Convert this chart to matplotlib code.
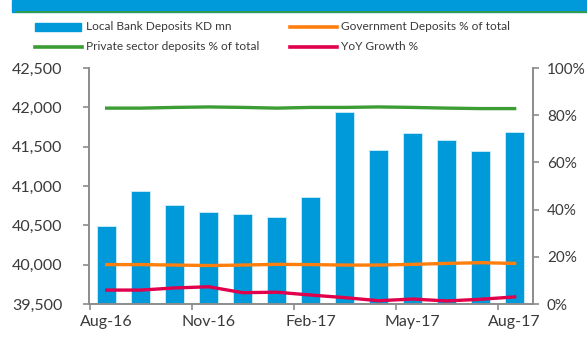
import matplotlib.pyplot as plt
from matplotlib.patches import Rectangle
from matplotlib.lines import Line2D
import numpy as np

months = ['Aug-16', 'Sep-16', 'Oct-16', 'Nov-16', 'Dec-16', 'Jan-17', 'Feb-17',
          'Mar-17', 'Apr-17', 'May-17', 'Jun-17', 'Jul-17', 'Aug-17']
deposits = [40490, 40940, 40755, 40667, 40645, 40607, 40865,
            41940, 41460, 41672, 41587, 41450, 41688]
gov_share = [16.7, 16.7, 16.5, 16.3, 16.5, 16.8, 16.7, 16.5, 16.5, 16.8, 17.2, 17.5, 17.2]
private_share = [83.0, 83.0, 83.3, 83.5, 83.3, 83.0, 83.3, 83.3, 83.5, 83.3, 83.0, 82.8, 82.8]
yoy_growth = [5.9, 5.9, 6.8, 7.3, 4.8, 5.0, 3.8, 2.7, 1.4, 2.1, 1.3, 2.0, 3.0]

shown_labels = ['Aug-16', 'Nov-16', 'Feb-17', 'May-17', 'Aug-17']

BLUE = '#009ADA'
ORANGE = '#FF7F0E'
GREEN = '#3C9D35'
RED = '#E1004B'
TEXT = '#3a3a3a'
AXIS = '#8C8C8C'

plt.rcParams['font.family'] = ['Lato', 'DejaVu Sans']
plt.rcParams['font.size'] = 11.5

W, H = 587, 338
fig = plt.figure(figsize=(W / 100, H / 100), dpi=100)
ax = fig.add_axes([89 / W, 1 - 304 / H, (533 - 89) / W, (304 - 68) / H])

x = np.arange(len(months))
ax.bar(x, deposits, width=0.57, color=BLUE, edgecolor='#cfeefa', linewidth=0.6, zorder=2)
ax.set_ylim(39500, 42500)
ax.set_xlim(-0.52, 12.54)
ax.set_yticks(np.arange(39500, 42501, 500))
ax.set_yticklabels(['{:,}'.format(v) for v in range(39500, 42501, 500)])

idx = [months.index(m) for m in shown_labels]
ax.set_xticks(idx)
ax.set_xticklabels(shown_labels)
ax.set_xticks(np.arange(-0.5, 12, 3), minor=True)
ax.tick_params(axis='x', which='major', length=0, pad=8, colors=TEXT)
ax.tick_params(axis='x', which='minor', length=4, color=AXIS, width=1.2)
ax.tick_params(axis='y', length=4, color=AXIS, width=1.2, labelcolor=TEXT, pad=15)

ax2 = ax.twinx()
ax2.plot(x, private_share, color=GREEN, lw=2.4, zorder=3)
ax2.plot(x, gov_share, color=ORANGE, lw=2.4, zorder=3)
ax2.plot(x, yoy_growth, color=RED, lw=2.4, zorder=3)
ax2.set_ylim(0, 100)
ax2.set_yticks(range(0, 101, 20))
ax2.set_yticklabels(['{}%'.format(v) for v in range(0, 101, 20)])
ax2.tick_params(axis='y', length=4, color=AXIS, width=1.2, labelcolor=TEXT, pad=6,
                labelsize=11)

for a in (ax, ax2):
    a.spines['top'].set_visible(False)
    for s in ('left', 'right', 'bottom'):
        a.spines[s].set_color(AXIS)
        a.spines[s].set_linewidth(1.2)

# top banner
fig.patches.append(Rectangle((12 / W, 1 - 12 / H), 1, 12 / H, transform=fig.transFigure,
                             color=BLUE, zorder=0))
fig.lines.append(Line2D([17 / W, 1], [1 - 11.5 / H] * 2, transform=fig.transFigure,
                        color=GREEN, lw=1.2))

# legend, laid out like the source
legend_items = [
    ('Local Bank Deposits KD mn', BLUE, 'box', 35, 27),
    ('Government Deposits % of total', ORANGE, 'line', 290, 27),
    ('Private sector deposits % of total', GREEN, 'line', 35, 47),
    ('YoY Growth %', RED, 'line', 290, 47),
]
for label, color, kind, x0, y0 in legend_items:
    if kind == 'box':
        fig.patches.append(Rectangle((x0 / W, 1 - (y0 + 4) / H), 46 / W, 8 / H,
                                     transform=fig.transFigure, color=color))
    else:
        fig.lines.append(Line2D([x0 / W, (x0 + 47) / W], [1 - y0 / H] * 2,
                                transform=fig.transFigure, color=color, lw=2.6))
    fig.text((x0 + 51) / W, 1 - y0 / H, label, fontsize=8.6, color=TEXT,
             va='center', ha='left')

plt.savefig('out.png', dpi=100)
